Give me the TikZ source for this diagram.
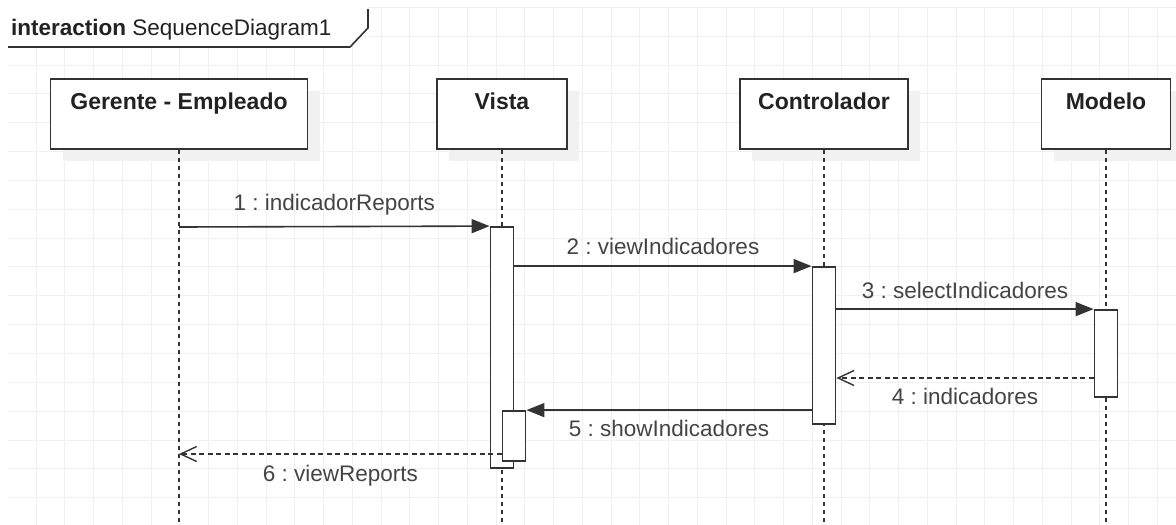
\documentclass[tikz,border=0pt]{standalone}
\usepackage{fontspec}
\setmainfont{Liberation Sans}
\usetikzlibrary{arrows.meta,shadows,calc}
\definecolor{gridc}{HTML}{F0F0F0}
\definecolor{linec}{HTML}{333333}
\definecolor{textc}{HTML}{444444}
\definecolor{titlec}{HTML}{222222}
\definecolor{shadowc}{HTML}{F1F1F1}
\frenchspacing
\begin{document}
\begin{tikzpicture}[x=1pt,y=-1pt,
  gridline/.style={draw=gridc,line width=1pt},
  head/.style={draw=linec,line width=1.8pt,fill=white,minimum height=70pt,inner sep=0pt,
    general shadow={fill=shadowc,shadow xshift=12pt,shadow yshift=-12pt}},
  headtext/.style={font=\fontsize{23}{27}\selectfont\bfseries,text=titlec,inner sep=0pt},
  act/.style={draw=linec,line width=1.8pt,fill=white,minimum width=23pt,inner sep=0pt},
  lifeline/.style={draw=linec,line width=1.6pt,dash pattern=on 4pt off 4pt},
  msg/.style={draw=linec,line width=1.6pt,-{Triangle[length=18pt,width=14pt]}},
  ret/.style={draw=linec,line width=1.4pt,dash pattern=on 5pt off 3.5pt,-{Straight Barb[length=16pt,width=15pt,line width=1.4pt]}},
  lbl/.style={font=\fontsize{22.5}{27}\selectfont,text=textc,inner sep=0pt}]
\useasboundingbox (0,0) rectangle (1176,525);
\fill[white] (0,0) rectangle (1176,525);
% grid
\foreach \i in {0,...,39} \draw[gridline] ({36+28.75*\i},8) -- ({36+28.75*\i},525);
\foreach \j in {0,...,17} \draw[gridline] (8,{7.3+28.85*\j}) -- (1176,{7.3+28.85*\j});
% frame label
\fill[white] (8,0) -- (368,0) -- (368,28) -- (350,47) -- (8,47) -- cycle;
\draw[linec,line width=1.6pt] (368,9) -- (368,28) -- (350,47) -- (8,47);
\node[anchor=base west,inner sep=0pt,text=titlec,font=\fontsize{22.5}{26}\selectfont] (frame) at (11,35) {\textbf{interaction} SequenceDiagram1};
% lifeline heads
\node[head,minimum width=257pt,label={[headtext,anchor=base,yshift=-31pt]north:Gerente - Empleado}] (ge) at (179,114) {};
\node[head,minimum width=130pt,label={[headtext,anchor=base,yshift=-31pt]north:Vista}] (vi) at (502,114) {};
\node[head,minimum width=168pt,label={[headtext,anchor=base,yshift=-31pt]north:Controlador}] (co) at (824,114) {};
\node[head,minimum width=129pt,label={[headtext,anchor=base,yshift=-31pt]north:Modelo}] (mo) at (1106,114) {};
% lifeline ends
\coordinate (geEnd) at (179,525);
\coordinate (viEnd) at (502,525);
\coordinate (coEnd) at (824,525);
\coordinate (moEnd) at (1106,525);
\draw[lifeline] (ge.south) -- (geEnd);
\draw[lifeline] (vi.south) -- (viEnd);
\draw[lifeline] (co.south) -- (coEnd);
\draw[lifeline] (mo.south) -- (moEnd);
% activations
\node[act,minimum height=241pt] (a1) at (502,347.5) {};
\node[act,minimum height=50pt] (a2) at (514,436) {};
\node[act,minimum height=157pt] (c1) at (824,345.5) {};
\node[act,minimum height=87pt] (m1) at (1106,353.5) {};
% message levels
\coordinate (y1) at (179,227);
\coordinate (y4) at (0,378);
\coordinate (y6) at (179,454);
% messages
\draw[msg] (y1) -- (a1.north west) node[lbl,midway,above=11pt] (l1) {1 : indicadorReports};
\draw[msg] (a1.east |- c1.north) -- (c1.north west) node[lbl,midway,above=11pt] (l2) {2 : viewIndicadores};
\draw[msg] (c1.east |- m1.north) -- (m1.north west) node[lbl,midway,above=10pt] (l3) {3 : selectIndicadores};
\draw[ret] (m1.west |- y4) -- (c1.east |- y4) node[lbl,midway,below=9pt] (l4) {4 : indicadores};
\draw[msg] (c1.west |- a2.north) -- (a2.north east) node[lbl,midway,below=9pt] (l5) {5 : showIndicadores};
\draw[ret] (a2.west |- y6) -- (y6) node[lbl,midway,below=10pt] (l6) {6 : viewReports};
\end{tikzpicture}
\end{document}
